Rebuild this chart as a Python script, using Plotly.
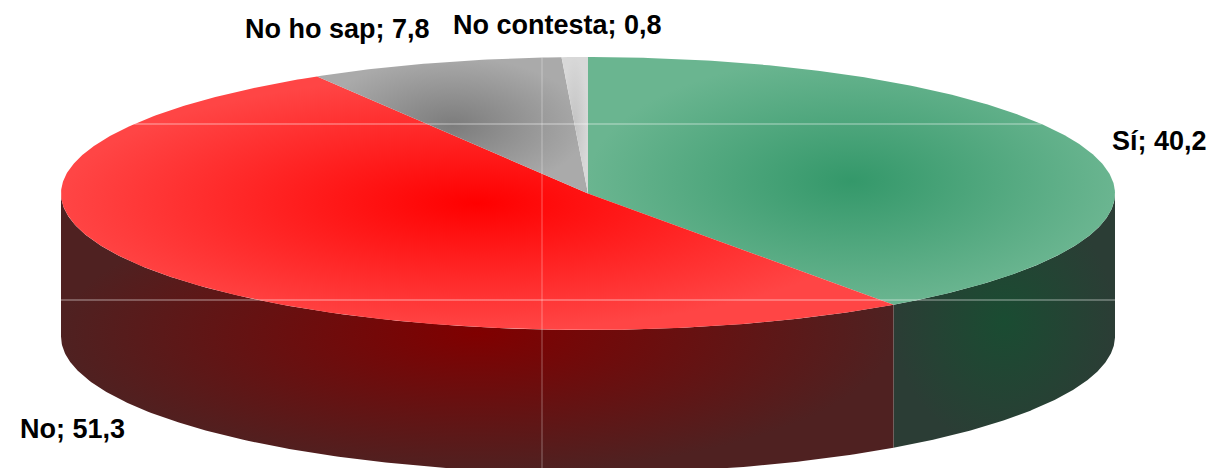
import numpy as np
import plotly.graph_objects as go

# Survey answers
categories = ["Sí", "No", "No ho sap", "No contesta"]
values = [40.2, 51.3, 7.8, 0.8]
value_labels = ["40,2", "51,3", "7,8", "0,8"]

# Appearance of each slice: (top centre, top edge, side centre, side edge)
top_colors = [("#34986a", "#6ab590"), ("#ff0000", "#ff4545"),
              ("#7c7c7c", "#aaaaaa"), ("#c4c4c4", "#d8d8d8")]
side_colors = [("#1a4c32", "#2b3d35"), ("#800000", "#4f2121"),
               ("#555555", "#333333"), ("#777777", "#555555")]

# Geometry of the tilted disc (pixel space)
W, H = 1213, 468
cx, cy = 588, 193.5
rx, ry = 527, 136.5
depth = 143


def rim(theta_deg, dy=0.0):
    t = np.radians(theta_deg)
    return cx + rx * np.sin(t), cy - ry * np.cos(t) + dy


fractions = np.array(values) / sum(values)
bounds = np.concatenate([[0.0], np.cumsum(fractions) * 360.0])

fig = go.Figure()

# Visible front walls (angles 90..270 measured clockwise from 12 o'clock)
for i, name in enumerate(categories):
    lo, hi = max(bounds[i], 90.0), min(bounds[i + 1], 270.0)
    if hi <= lo:
        continue
    th = np.linspace(lo, hi, 200)
    xt, yt = rim(th)
    xb, yb = rim(th[::-1], depth)
    xs = np.concatenate([xt, xb, xt[:1]])
    ys = np.concatenate([yt, yb, yt[:1]])
    c_in, c_out = side_colors[i]
    fig.add_trace(go.Scatter(
        x=xs, y=ys, mode="lines", fill="toself", line=dict(width=0),
        fillgradient=dict(type="radial", colorscale=[[0, c_in], [1, c_out]]),
        hoverinfo="skip", showlegend=False))

# Top faces of the slices
for i, name in enumerate(categories):
    th = np.linspace(bounds[i], bounds[i + 1], max(int((bounds[i + 1] - bounds[i]) * 2), 4))
    xa, ya = rim(th)
    xs = np.concatenate([[cx], xa, [cx]])
    ys = np.concatenate([[cy], ya, [cy]])
    c_in, c_out = top_colors[i]
    fig.add_trace(go.Scatter(
        x=xs, y=ys, mode="lines", fill="toself", line=dict(width=0),
        fillgradient=dict(type="radial", colorscale=[[0, c_in], [1, c_out]]),
        hoverinfo="text", text=f"{name}; {value_labels[i]}", showlegend=False))

# Faint rendering seams across the disc
seam = "rgba(255,255,255,0.55)"
y_seam1 = 124
half = rx * np.sqrt(1 - ((y_seam1 - cy) / ry) ** 2)
fig.add_trace(go.Scatter(x=[cx - half, cx + half], y=[y_seam1, y_seam1], mode="lines",
                         line=dict(color=seam, width=1), hoverinfo="skip", showlegend=False))
y_seam2 = 300
fig.add_trace(go.Scatter(x=[cx - rx, cx + rx], y=[y_seam2, y_seam2], mode="lines",
                         line=dict(color=seam, width=1), hoverinfo="skip", showlegend=False))
x_seam = 542
dy = ry * np.sqrt(1 - ((x_seam - cx) / rx) ** 2)
fig.add_trace(go.Scatter(x=[x_seam, x_seam], y=[cy - dy, cy + dy + depth], mode="lines",
                         line=dict(color="rgba(255,255,255,0.35)", width=1),
                         hoverinfo="skip", showlegend=False))

# Data labels
label_pos = [(1159, 141), (72, 429), (337, 29), (557, 25)]
for (lx, ly), name, lab in zip(label_pos, categories, value_labels):
    fig.add_annotation(x=lx, y=ly, xref="x", yref="y", text=f"<b>{name}; {lab}</b>",
                       showarrow=False, xanchor="center", yanchor="middle",
                       font=dict(family="Liberation Sans, Arial, sans-serif", size=27, color="#000000"))

fig.update_layout(
    width=W, height=H, margin=dict(l=0, r=0, t=0, b=0),
    paper_bgcolor="white", plot_bgcolor="white",
    xaxis=dict(range=[0, W], visible=False, fixedrange=True),
    yaxis=dict(range=[H, 0], visible=False, fixedrange=True),
    showlegend=False,
)

fig.write_html("out.html")
